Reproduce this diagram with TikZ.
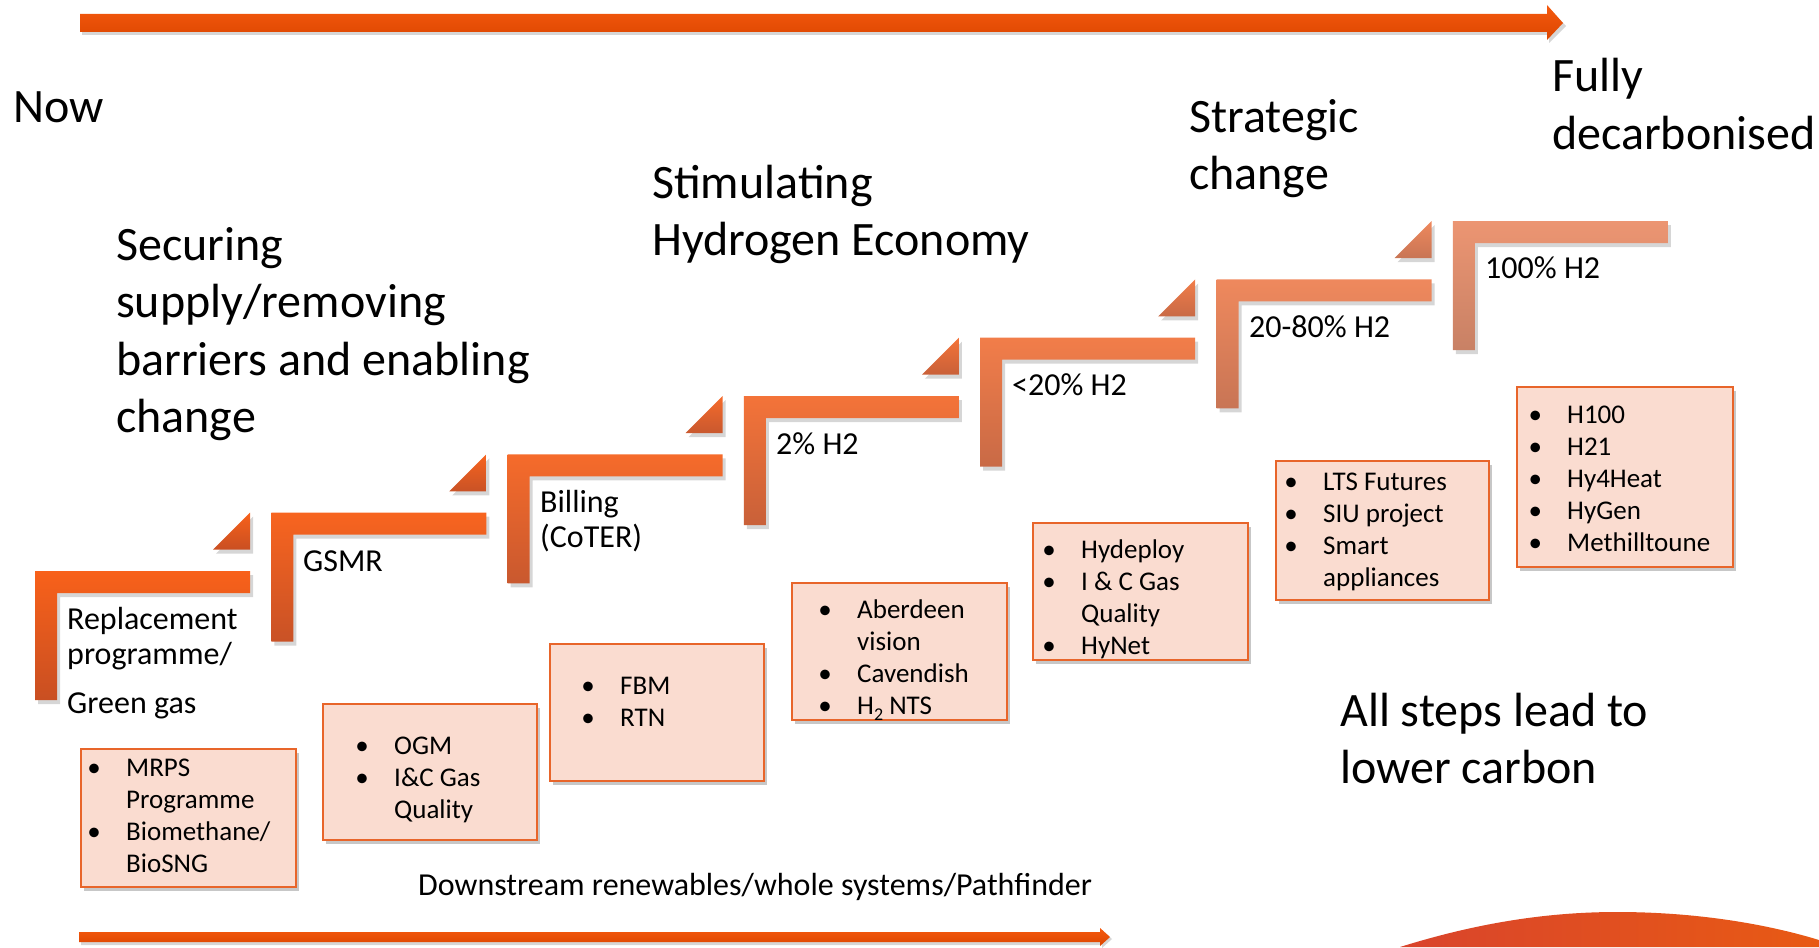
\documentclass[tikz,border=0pt]{standalone}
\usepackage{fontspec}
\setmainfont{Carlito}
\usetikzlibrary{shadows}
\definecolor{earlyTop}{HTML}{F8611A}
\definecolor{earlyBot}{HTML}{C94F22}
\definecolor{lateTop}{HTML}{EC9572}
\definecolor{lateBot}{HTML}{C88165}
\definecolor{boxfill}{HTML}{FADCD0}
\definecolor{boxedge}{HTML}{E8652A}
\definecolor{arrowTop}{HTML}{F5590E}
\definecolor{arrowBot}{HTML}{DC4600}
\definecolor{curveL}{HTML}{D9442C}
\definecolor{curveR}{HTML}{E85A14}
\newcommand{\bl}{\makebox[10pt]{\textbullet}}
\begin{document}
\begin{tikzpicture}[x=1pt,y=-1pt,
  box/.style={draw=boxedge, line width=2pt, fill=boxfill, inner sep=0, anchor=north west,
    drop shadow={shadow xshift=3pt, shadow yshift=-4pt, fill=black, opacity=.22}},
  heading/.style={inner sep=0, anchor=base west, font=\fontsize{48}{57.5}\selectfont},
  steplabel/.style={inner sep=0, anchor=base west, font=\fontsize{32}{35}\selectfont},
  boxtext/.style={inner sep=0, anchor=base west, font=\fontsize{27}{32}\selectfont},
  bottomtext/.style={inner sep=0, anchor=base west, font=\fontsize{32}{38}\selectfont},
  shadowfill/.style={fill=black, opacity=.16}
]
\useasboundingbox (0,0) rectangle (1819,947);

% top and bottom arrows
\fill[shadowfill] (82,17) -- (1549,17) -- (1549,8) -- (1566,26) -- (1549,43) -- (1549,35) -- (82,35) -- cycle;
\shade[top color=arrowTop, bottom color=arrowBot] (80,14) -- (1547,14) -- (1547,5) -- (1563,23) -- (1547,40) -- (1547,32) -- (80,32) -- cycle;
\fill[shadowfill] (81,935) -- (1102,935) -- (1102,930) -- (1112,939) -- (1102,948) -- (1102,945) -- (81,945) -- cycle;
\shade[top color=arrowTop, bottom color=arrowBot] (79,932) -- (1100,932) -- (1100,928) -- (1110,937) -- (1100,946) -- (1100,942) -- (79,942) -- cycle;

% steps
\foreach \i in {0,...,6}{
  \pgfmathsetmacro\L{35+236.3*\i}
  \pgfmathsetmacro\T{571-58.33*\i}
  \pgfmathtruncatemacro\p{100*(\i/6)^1.5}
  \colorlet{st}{lateTop!\p!earlyTop}
  \colorlet{sb}{lateBot!\p!earlyBot}
  \fill[shadowfill] (\L+3,\T+4) -- ++(215,0) -- ++(0,22) -- ++(-193,0) -- ++(0,107) -- ++(-22,0) -- cycle;
  \shade[top color=st, bottom color=sb] (\L,\T) -- ++(215,0) -- ++(0,22) -- ++(-193,0) -- ++(0,107) -- ++(-22,0) -- cycle;
  \ifnum\i<6
    \fill[shadowfill] (\L+218,\T-54.33) -- ++(0,37) -- ++(-37,0) -- cycle;
    \shade[top color=st, bottom color=sb] (\L+215,\T-58.33) -- ++(0,37) -- ++(-37,0) -- cycle;
  \fi
}

% headings
\node[heading] (now) at (13,123) {Now};
\node[heading] (secure) at (116,260) {\begin{tabular}[t]{@{}l@{}}Securing\\supply/removing\\barriers and enabling\\change\end{tabular}};
\node[heading] (stim) at (652,198) {\begin{tabular}[t]{@{}l@{}}Stimulating\\Hydrogen Economy\end{tabular}};
\node[heading] (strat) at (1189,132) {\begin{tabular}[t]{@{}l@{}}Strategic\\change\end{tabular}};
\node[heading] (fully) at (1552,92) {\begin{tabular}[t]{@{}l@{}}Fully\\decarbonised\end{tabular}};
\node[heading] (all) at (1340,726) {\begin{tabular}[t]{@{}l@{}}All steps lead to\\lower carbon\end{tabular}};

% step labels
\node[steplabel] (s1) at (67,629) {\begin{tabular}[t]{@{}l@{}}Replacement\\programme/\\[14pt]Green gas\end{tabular}};
\node[steplabel] (s2) at (303,571) {GSMR};
\node[steplabel] (s3) at (540,512) {\begin{tabular}[t]{@{}l@{}}Billing\\(CoTER)\end{tabular}};
\node[steplabel] (s4) at (776,454) {2\% H2};
\node[steplabel] (s5) at (1012,395) {<20\% H2};
\node[steplabel] (s6) at (1249,337) {20-80\% H2};
\node[steplabel] (s7) at (1485,278) {100\% H2};

% boxes
\node[box, minimum width=215pt, minimum height=138pt] (b1) at (80,748) {};
\node[box, minimum width=214pt, minimum height=136pt] (b2) at (322,703) {};
\node[box, minimum width=214pt, minimum height=137pt] (b3) at (549,643) {};
\node[box, minimum width=215pt, minimum height=137pt] (b4) at (791,582) {};
\node[box, minimum width=215pt, minimum height=137pt] (b5) at (1032,522) {};
\node[box, minimum width=213pt, minimum height=139pt] (b6) at (1275,460) {};
\node[box, minimum width=216pt, minimum height=180pt] (b7) at (1516,386) {};

\node[boxtext] (t1) at (89,776) {\begin{tabular}[t]{@{}l@{\hspace{27pt}}l@{}}\bl&MRPS\\&Programme\\\bl&Biomethane/\\&BioSNG\end{tabular}};
\node[boxtext] (t2) at (357,754) {\begin{tabular}[t]{@{}l@{\hspace{27pt}}l@{}}\bl&OGM\\\bl&I\&C Gas\\&Quality\end{tabular}};
\node[boxtext] (t3) at (583,694) {\begin{tabular}[t]{@{}l@{\hspace{27pt}}l@{}}\bl&FBM\\\bl&RTN\end{tabular}};
\node[boxtext] (t4) at (820,618) {\begin{tabular}[t]{@{}l@{\hspace{27pt}}l@{}}\bl&Aberdeen\\&vision\\\bl&Cavendish\\\bl&H\raisebox{-6pt}{\fontsize{18}{18}\selectfont 2} NTS\end{tabular}};
\node[boxtext] (t5) at (1044,558) {\begin{tabular}[t]{@{}l@{\hspace{27pt}}l@{}}\bl&Hydeploy\\\bl&I \& C Gas\\&Quality\\\bl&HyNet\end{tabular}};
\node[boxtext] (t6) at (1286,490) {\begin{tabular}[t]{@{}l@{\hspace{27pt}}l@{}}\bl&LTS Futures\\\bl&SIU project\\\bl&Smart\\&appliances\end{tabular}};
\node[boxtext] (t7) at (1530,423) {\begin{tabular}[t]{@{}l@{\hspace{27pt}}l@{}}\bl&H100\\\bl&H21\\\bl&Hy4Heat\\\bl&HyGen\\\bl&Methilltoune\end{tabular}};

\node[bottomtext] (down) at (418,895) {Downstream renewables/whole systems/Pathfinder};

% bottom-right curve
\shade[left color=curveL, right color=curveR] (1400,947) .. controls (1480,922) and (1550,912) .. (1617,912) .. controls (1700,912) and (1770,925) .. (1819,940) -- (1819,947) -- cycle;
\end{tikzpicture}
\end{document}
